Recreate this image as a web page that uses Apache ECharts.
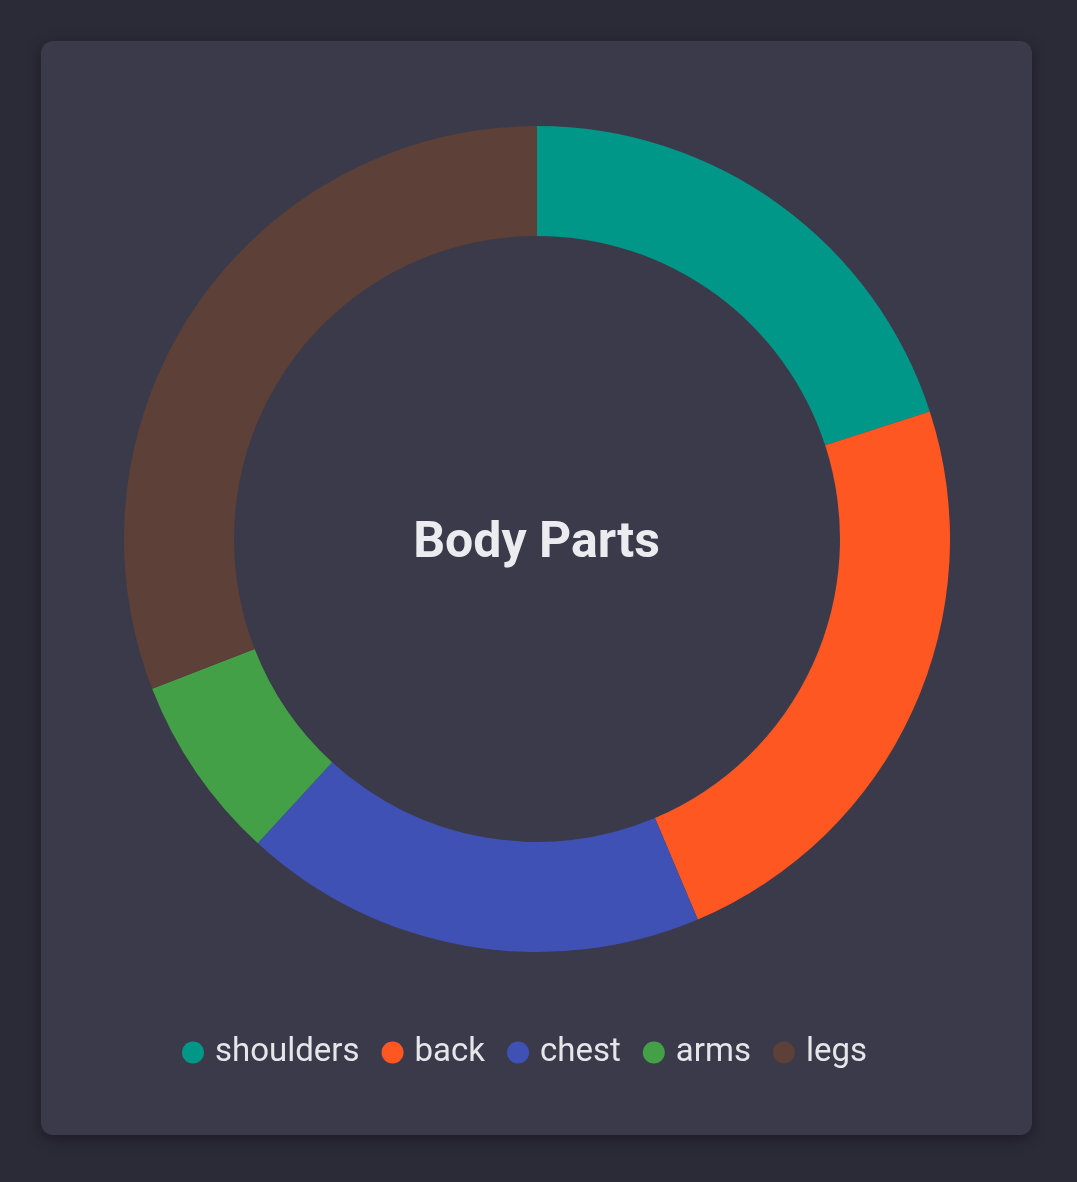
<!DOCTYPE html>
<html>
<head>
<meta charset="utf-8">
<script src="https://cdn.jsdelivr.net/npm/echarts@6/dist/echarts.min.js"></script>
<style>
  html, body { margin: 0; padding: 0; background: #2b2a37; width: 1077px; height: 1182px; overflow: hidden; }
  #card { position: absolute; left: 41px; top: 41px; width: 991px; height: 1094px; background: #3b3a4a; border-radius: 12px; box-shadow: 0 4px 14px rgba(0,0,0,0.35); }
  #chart { width: 991px; height: 1094px; }
</style>
</head>
<body>
<div id="card"><div id="chart"></div></div>
<script>
const categories = ['shoulders', 'back', 'chest', 'arms', 'legs'];
const values = [11, 13, 10, 4, 17];
const colors = ['#009688', '#FF5722', '#3F51B5', '#43A047', '#5D4037'];
const titleText = 'Body Parts';

const chart = echarts.init(document.getElementById('chart'), null, { renderer: 'canvas' });
chart.setOption({
  backgroundColor: 'transparent',
  color: colors,
  title: {
    text: titleText,
    left: 'center',
    top: 473,
    textStyle: { color: '#ececf0', fontSize: 50, fontWeight: 'bold', fontFamily: 'Roboto' }
  },
  legend: {
    data: categories,
    top: 990,
    left: 136,
    icon: 'circle',
    itemWidth: 22,
    itemHeight: 22,
    itemGap: 22,
    textStyle: { color: '#e6e6ea', fontSize: 33, fontFamily: 'Roboto', padding: [0, 0, 0, 6] }
  },
  series: [{
    type: 'pie',
    center: [496, 498],
    radius: [303, 413],
    startAngle: 90,
    clockwise: true,
    avoidLabelOverlap: false,
    label: { show: false },
    labelLine: { show: false },
    itemStyle: { borderWidth: 0 },
    emphasis: { disabled: true },
    animation: false,
    data: categories.map((c, i) => ({ name: c, value: values[i] }))
  }]
});
</script>
</body>
</html>
